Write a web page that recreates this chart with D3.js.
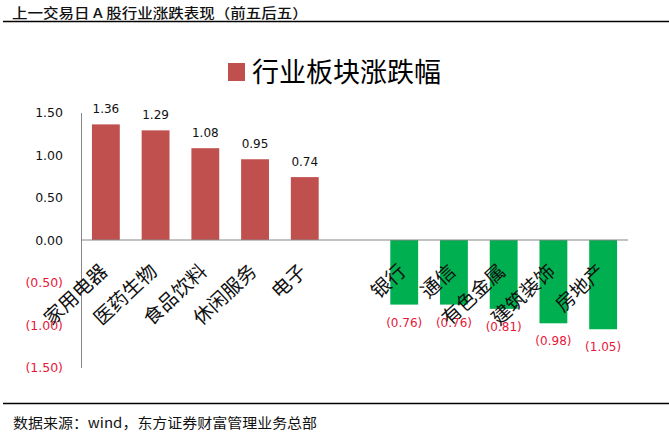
<!DOCTYPE html>
<html><head><meta charset="utf-8">
<script src="https://cdn.jsdelivr.net/npm/d3@7"></script>
<style>
html,body{margin:0;padding:0;background:#fff;}
svg{display:block;}
</style></head>
<body>
<svg id="chart" width="669" height="437"></svg>
<script>
const headerText = "上一交易日 A 股行业涨跌表现（前五后五）";
const footerText = "数据来源：wind，东方证券财富管理业务总部";
const seriesName = "行业板块涨跌幅";
const categories = ["家用电器","医药生物","食品饮料","休闲服务","电子","","银行","通信","有色金属","建筑装饰","房地产"];
const values = [1.36,1.29,1.08,0.95,0.74,null,-0.76,-0.76,-0.81,-0.98,-1.05];
const yTicks = [-1.5,-1.0,-0.5,0,0.5,1.0,1.5];

const svg = d3.select("#chart");
const cjk = "'Noto Sans CJK SC','Noto Sans',sans-serif";
const num = "'DejaVu Sans',Verdana,sans-serif";
const posColor = "#C0504D", negColor = "#00B050", redText = "#E8173A";

// header & footer (horizontally stretched like the source)
svg.append("text").attr("transform","translate(12,17.5) scale(1.15,1)").attr("font-family",cjk).attr("font-size",13.5)
  .attr("font-weight",500).attr("fill","#111").text(headerText);
svg.append("line").attr("x1",3).attr("x2",669).attr("y1",21.5).attr("y2",21.5).attr("stroke","#000").attr("stroke-width",1.3);
svg.append("line").attr("x1",3).attr("x2",669).attr("y1",403.5).attr("y2",403.5).attr("stroke","#000").attr("stroke-width",1.3);
svg.append("text").attr("transform","translate(13,428) scale(1.11,1)").attr("font-family",cjk).attr("font-size",13.5)
  .attr("fill","#111").text(footerText);

// legend/title
svg.append("rect").attr("x",228).attr("y",63).attr("width",17).attr("height",18).attr("fill",posColor);
svg.append("text").attr("x",252).attr("y",82).attr("font-family",cjk).attr("font-size",27)
  .attr("fill","#000").text(seriesName);

const x = d3.scaleBand().domain(categories).range([81,628]).paddingInner(0.44).paddingOuter(0.22);
const y = d3.scaleLinear().domain([-1.5,1.5]).range([367.5,112.5]);
const fmt = v => v < 0 ? "(" + d3.format(".2f")(-v) + ")" : d3.format(".2f")(v);

// y axis
const yAxis = d3.axisLeft(y).tickValues(yTicks).tickSize(0).tickPadding(18).tickFormat(fmt);
const gy = svg.append("g").attr("transform","translate(81,0)").call(yAxis);
gy.select(".domain").attr("stroke","#868686");
gy.selectAll("text").attr("font-family",num).attr("font-size",12.5)
  .attr("fill", d => d < 0 ? redText : "#111");

const data = categories.map((c,i)=>({c, v: values[i]})).filter(d => d.v !== null);

// bars
svg.append("g").selectAll("rect").data(data).join("rect")
  .attr("x", d => x(d.c)).attr("width", x.bandwidth())
  .attr("y", d => y(Math.max(0,d.v))).attr("height", d => Math.abs(y(d.v)-y(0)))
  .attr("fill", d => d.v >= 0 ? posColor : negColor);

// zero line
svg.append("line").attr("x1",81).attr("x2",628).attr("y1",y(0)).attr("y2",y(0)).attr("stroke","#868686").attr("stroke-width",1);

// value labels
svg.append("g").selectAll("text").data(data).join("text")
  .attr("x", d => x(d.c) + x.bandwidth()/2)
  .attr("y", d => d.v >= 0 ? y(d.v) - 11 : y(d.v) + 22)
  .attr("text-anchor","middle").attr("font-family",num).attr("font-size",12)
  .attr("fill", d => d.v >= 0 ? "#111" : redText)
  .text(d => fmt(d.v));

// category labels
svg.append("g").selectAll("text").data(categories.filter(c => c !== "")).join("text")
  .attr("transform", c => `translate(${x(c) + x.bandwidth()/2 + 3},${y(0)+33}) rotate(-43)`)
  .attr("text-anchor","end").attr("font-family",cjk).attr("font-size",19.5).attr("fill","#111")
  .text(c => c);
</script>
</body></html>
